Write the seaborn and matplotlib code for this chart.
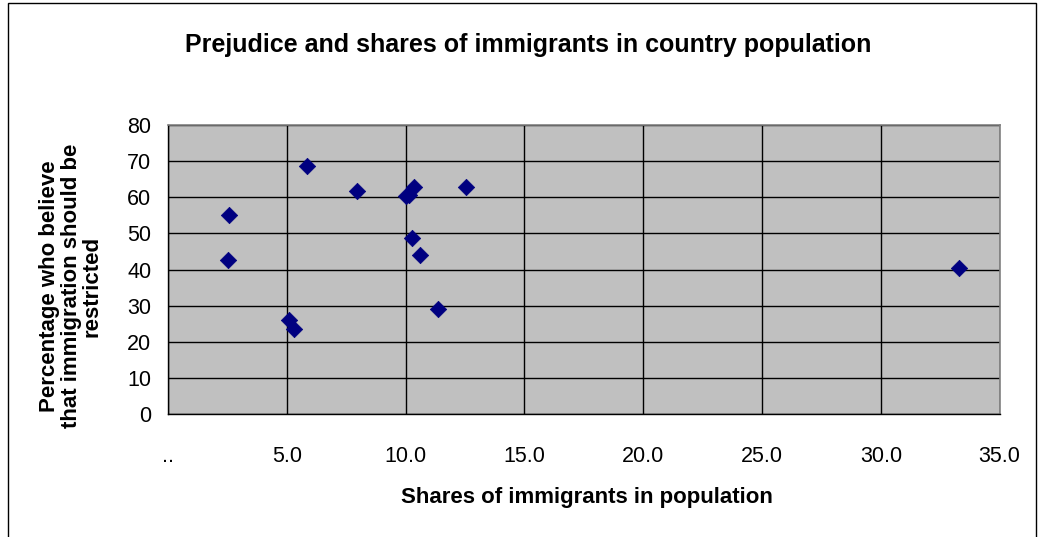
import matplotlib
matplotlib.use("Agg")
import matplotlib.pyplot as plt
import seaborn as sns
import pandas as pd
from matplotlib.patches import Rectangle

immigrant_share = [2.56, 2.52, 5.83, 5.10, 5.31, 7.97, 10.0, 10.15, 10.35, 12.52, 10.28, 10.59, 11.37, 33.3]
pct_restrict = [55.0, 42.7, 68.7, 26.0, 23.5, 61.7, 60.4, 60.6, 62.8, 62.8, 48.7, 43.9, 29.1, 40.5]
x_ticks = [0, 5, 10, 15, 20, 25, 30, 35]
x_tick_labels = ["..", "5.0", "10.0", "15.0", "20.0", "25.0", "30.0", "35.0"]
y_ticks = [0, 10, 20, 30, 40, 50, 60, 70, 80]

df = pd.DataFrame({"x": immigrant_share, "y": pct_restrict})

sns.set_style("white")
plt.rcParams['font.family'] = ['Liberation Sans', 'DejaVu Sans']
plt.rcParams['text.color'] = 'black'

fig = plt.figure(figsize=(10.38, 5.37), dpi=100)
ax = fig.add_axes([0.162, 0.229, 0.801, 0.538])
ax.set_facecolor("#C0C0C0")

sns.scatterplot(data=df, x="x", y="y", ax=ax, marker="D", s=70, color="#000080",
                edgecolor="#000080", linewidth=0.5, zorder=3)

ax.set_xlim(0, 35)
ax.set_ylim(0, 80)
ax.set_xticks(x_ticks)
ax.set_xticklabels(x_tick_labels)
ax.set_yticks(y_ticks)
ax.grid(True, color="black", linewidth=1.0)
ax.set_axisbelow(True)
for s in ["top", "right"]:
    ax.spines[s].set_color("#808080")
    ax.spines[s].set_linewidth(1.2)
for s in ["left", "bottom"]:
    ax.spines[s].set_color("black")
    ax.spines[s].set_linewidth(1.0)
ax.tick_params(axis="both", direction="out", length=6, width=1, color="black",
               labelsize=15.5, labelcolor="black")
ax.tick_params(axis="x", pad=17)
ax.tick_params(axis="y", pad=6)
ax.set_xlabel("")
ax.set_ylabel("")

fig.text(0.5655, 1 - 497 / 537, "Shares of immigrants in population", fontsize=16,
         fontweight="bold", ha="center", va="center", color="black")
fig.text(71 / 1038, 1 - 286 / 537, "Percentage who believe\nthat immigration should be\nrestricted",
         fontsize=16, fontweight="bold", rotation=90, ha="center", va="center",
         multialignment="center", linespacing=1.02, color="black")

fig.text(0.509, 1 - 45 / 537, "Prejudice and shares of immigrants in country population",
         fontsize=18, fontweight="bold", ha="center", va="center", color="black")

fig.patches.append(Rectangle((0.008, -0.01), 0.99, 1.005, transform=fig.transFigure,
                             fill=False, edgecolor="black", linewidth=1.0))

fig.savefig("out.png", dpi=100)
